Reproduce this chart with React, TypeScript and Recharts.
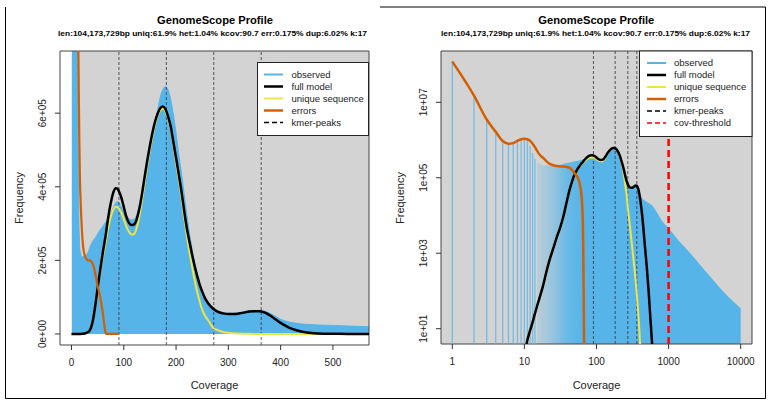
import React from 'react'
import {
  ComposedChart,
  Area,
  Line,
  XAxis,
  YAxis,
  ReferenceLine,
  ReferenceArea,
  CartesianGrid,
} from 'recharts'

// k-mer coverage (x) and frequencies
const coverage = [
  0, 1, 2, 3, 4, 5, 6, 7, 8, 9,
  10, 11, 12, 13, 14, 15, 16, 18, 20, 22,
  25, 28, 31, 35, 38, 42, 46, 50, 55, 60,
  63, 65, 66, 68, 70, 75, 80, 85, 88, 90,
  95, 100, 105, 110, 115, 120, 125, 130, 135, 140,
  145, 150, 155, 160, 165, 170, 175, 180, 185, 190,
  195, 200, 205, 210, 215, 220, 225, 230, 235, 240,
  245, 250, 255, 262, 270, 280, 290, 300, 310, 320,
  330, 340, 350, 360, 370, 380, 390, 400, 415, 430,
  450, 470, 500, 530, 560, 600, 640, 700, 800, 1000,
  1500, 2000, 3000, 5000, 7000, 10000,
]

const observed = [
  null, 1.25e8, 1.6e7, 3.6e6, 1.7e6, 9.6e5, 8.2e5, 8.5e5, 9.7e5, 1.07e6,
  1.09e6, 1.0e6, 7.0e5, 4.5e5, 3.2e5, 2.6e5, 2.3e5, 2.15e5, 2.1e5, 2.1e5,
  2.12e5, 2.15e5, 2.2e5, 2.35e5, 2.45e5, 2.55e5, 2.62e5, 2.72e5, 2.83e5, 2.93e5,
  2.99e5, 3.03e5, 3.05e5, 3.09e5, 3.14e5, 3.28e5, 3.43e5, 3.57e5, 3.6e5, 3.58e5,
  3.46e5, 3.32e5, 3.21e5, 3.13e5, 3.1e5, 3.12e5, 3.25e5, 3.5e5, 3.8e5, 4.2e5,
  4.58e5, 4.95e5, 5.32e5, 5.7e5, 6.1e5, 6.45e5, 6.65e5, 6.72e5, 6.62e5, 6.35e5,
  5.95e5, 5.45e5, 4.9e5, 4.4e5, 3.85e5, 3.3e5, 2.8e5, 2.35e5, 1.95e5, 1.6e5,
  1.35e5, 1.15e5, 1.0e5, 8.5e4, 7.2e4, 6.3e4, 5.8e4, 5.6e4, 5.6e4, 5.8e4,
  6.1e4, 6.3e4, 6.4e4, 6.4e4, 6.2e4, 5.6e4, 4.8e4, 4.0e4, 3.3e4, 2.9e4,
  2.6e4, 2.45e4, 2.3e4, 2.15e4, 2.0e4, 1.8e4, 1.5e4, 1.15e4, 7.5e3, 4.6e3,
  1.8e3, 1.0e3, 400, 130, 65, 35,
]

const fullModel = [
  0, 0, 0, 0, 0, 0, 0, 0, 0, 0,
  2, 5, 9, 15, 25, 40, 60, 130, 300, 600,
  1300, 2600, 4500, 10000, 20000, 45000, 82000, 125000, 175000, 222000,
  248000, 265000, 274000, 295000, 315000, 355000, 385000, 396000, 395000, 390000,
  372000, 345000, 318000, 302000, 296000, 298000, 313000, 342000, 382000, 428000,
  472000, 512000, 548000, 578000, 600000, 614000, 618000, 610000, 590000, 562000,
  520000, 478000, 435000, 390000, 340000, 292000, 255000, 220000, 188000, 160000,
  135000, 115000, 98000, 82000, 70000, 60000, 56000, 54000, 54000, 55500,
  58000, 61000, 62000, 61500, 58000, 50000, 40000, 30000, 18000, 10000,
  4000, 1500, 400, 90, 18, 2.5, 0.3, 0, 0, 0,
  0, 0, 0, 0, 0, 0,
]

const uniqueSeq = [
  0, 0, 0, 0, 0, 0, 0, 0, 0, 0,
  2, 5, 9, 15, 25, 40, 60, 130, 300, 600,
  1300, 2600, 4500, 10000, 19500, 44000, 80000, 120000, 168000, 210000,
  232000, 248000, 255000, 272000, 288000, 318000, 338000, 346000, 345000, 342000,
  330000, 312000, 292000, 278000, 270000, 272000, 290000, 322000, 365000, 412000,
  458000, 500000, 538000, 570000, 594000, 608000, 612000, 604000, 584000, 555000,
  512000, 465000, 422000, 375000, 322000, 273000, 228000, 188000, 150000, 117000,
  89000, 66000, 50000, 36000, 18000, 10000, 5500, 3000, 1700, 950,
  550, 320, 170, 95, 50, 25, 12, 5, 1.2, 0.2,
  0, 0, 0, 0, 0, 0, 0, 0, 0, 0,
  0, 0, 0, 0, 0, 0,
]

const errors = [
  null, 1.2e8, 1.5e7, 3.5e6, 1.65e6, 9.4e5, 8.0e5, 8.3e5, 9.5e5, 1.05e6,
  1.08e6, 1.05e6, 9.5e5, 8.0e5, 6.5e5, 5.2e5, 4.3e5, 3.4e5, 2.8e5, 2.4e5,
  2.15e5, 2.05e5, 2.0e5, 2.0e5, 1.97e5, 1.85e5, 1.6e5, 1.3e5, 1.0e5, 5.5e4,
  2.2e4, 4000, 300, 0.5, 0, 0, 0, 0, 0, 0,
  null, null, null, null, null, null, null, null, null, null,
  null, null, null, null, null, null, null, null, null, null,
  null, null, null, null, null, null, null, null, null, null,
  null, null, null, null, null, null, null, null, null, null,
  null, null, null, null, null, null, null, null, null, null,
  null, null, null, null, null, null, null, null, null, null,
  null, null, null, null, null, null,
]

const kmerPeaks = [90.7, 181.4, 272.1, 362.8]
const covThreshold = 1000

const linXTicks = [0, 100, 200, 300, 400, 500]
const linYTicks = [0, 2e5, 4e5, 6e5]
const logXTicks = [1, 10, 100, 1000, 10000]
const logYTicks = [10, 1e3, 1e5, 1e7]

const title = 'GenomeScope Profile'
const subtitle = 'len:104,173,729bp uniq:61.9%  het:1.04% kcov:90.7 err:0.175%  dup:6.02%  k:17'
const legendLeft = ['observed', 'full model', 'unique sequence', 'errors', 'kmer-peaks']
const legendRight = [...legendLeft, 'cov-threshold']

const LIN_X = [-22, 569]
const LIN_Y = [-30000, 769000]
const LOG_X = [0.697, 14350]
const LOG_Y = [3.93, 2.29e8]

const FONT = '"Liberation Sans", Arial, Helvetica, sans-serif'
const BLUE = '#56B4E9'
const YELLOW = '#F0E442'
const ORANGE = '#D55E00'
const BG = '#D3D3D3'

const rows = coverage.map((cov, i) => ({
  cov,
  observed: observed[i],
  full: fullModel[i],
  uniq: uniqueSeq[i],
  err: errors[i],
}))

const pos = (v: number | null) => (v != null && v > 0 ? v : null)

const logRows = rows
  .filter((r) => r.cov > 0)
  .map((r) => ({
    cov: r.cov,
    obsFill: r.cov >= 15 ? r.observed : null,
    full: pos(r.full),
    uniq: pos(r.uniq),
    err: pos(r.err),
  }))

const lowCov = rows.filter((r) => r.cov >= 1 && r.cov <= 14)

const sci = (v: number) => v.toExponential(0).replace(/e([+-])(\d)$/, 'e$10$2')
const plain = (v: number) => String(v)

function xTick(fmt: (v: number) => string) {
  return (p: any) => (
    <text x={p.x} y={p.y + 14} textAnchor="middle" fontSize={10} fill="#222" fontFamily={FONT}>
      {fmt(p.payload.value)}
    </text>
  )
}

function yTick(fmt: (v: number) => string) {
  return (p: any) => (
    <text
      x={p.x - 7}
      y={p.y}
      transform={`rotate(-90 ${p.x - 7} ${p.y})`}
      textAnchor="middle"
      fontSize={10}
      fill="#222"
      fontFamily={FONT}
    >
      {fmt(p.payload.value)}
    </text>
  )
}

const tickLine = { stroke: '#333', strokeWidth: 1 }

function LinearPanel() {
  return (
    <ComposedChart width={388} height={400} data={rows} margin={{ top: 51, right: 19, bottom: 25, left: 0 }}>
      <XAxis
        type="number"
        dataKey="cov"
        domain={LIN_X}
        allowDataOverflow
        ticks={linXTicks}
        interval={0}
        height={30}
        tickSize={5}
        tickLine={tickLine}
        axisLine={false}
        tick={xTick(plain)}
      />
      <YAxis
        type="number"
        domain={LIN_Y}
        allowDataOverflow
        ticks={linYTicks}
        interval={0}
        width={60}
        tickSize={5}
        tickLine={tickLine}
        axisLine={false}
        tick={yTick(sci)}
      />
      <ReferenceArea x1={0} x2={LIN_X[1]} y1={0} y2={LIN_Y[1]} fill={BG} fillOpacity={1} stroke="none" />
      <Area
        dataKey="observed"
        type="monotone"
        fill={BLUE}
        fillOpacity={1}
        stroke={BLUE}
        strokeWidth={1}
        dot={false}
        activeDot={false}
        isAnimationActive={false}
      />
      {kmerPeaks.map((p) => (
        <ReferenceLine key={p} x={p} stroke="#333" strokeDasharray="3 2" strokeWidth={0.8} />
      ))}
      <Line dataKey="uniq" type="monotone" stroke={YELLOW} strokeWidth={2} dot={false} activeDot={false} isAnimationActive={false} />
      <Line dataKey="full" type="monotone" stroke="#000" strokeWidth={2.5} dot={false} activeDot={false} isAnimationActive={false} />
      <Line dataKey="err" type="monotone" stroke={ORANGE} strokeWidth={2.2} dot={false} activeDot={false} isAnimationActive={false} />
      <ReferenceArea x1={LIN_X[0]} x2={LIN_X[1]} y1={LIN_Y[0]} y2={LIN_Y[1]} fill="none" stroke="#444" />
    </ComposedChart>
  )
}

function LogPanel() {
  return (
    <ComposedChart width={388} height={400} data={logRows} margin={{ top: 51, right: 24, bottom: 26, left: 0 }}>
      <defs>
        <linearGradient id="obsFade" x1="0" y1="0" x2="1" y2="0">
          <stop offset="0" stopColor={BLUE} stopOpacity={0.2} />
          <stop offset="0.08" stopColor={BLUE} stopOpacity={0.5} />
          <stop offset="0.15" stopColor={BLUE} stopOpacity={0.85} />
          <stop offset="0.22" stopColor={BLUE} stopOpacity={1} />
        </linearGradient>
      </defs>
      <CartesianGrid fill={BG} horizontal={false} vertical={false} stroke="none" />
      <XAxis
        type="number"
        scale="log"
        dataKey="cov"
        domain={LOG_X}
        allowDataOverflow
        ticks={logXTicks}
        interval={0}
        height={30}
        tickSize={5}
        tickLine={tickLine}
        axisLine={false}
        tick={xTick(plain)}
      />
      <YAxis
        type="number"
        scale="log"
        domain={LOG_Y}
        allowDataOverflow
        ticks={logYTicks}
        interval={0}
        width={53}
        tickSize={5}
        tickLine={tickLine}
        axisLine={false}
        tick={yTick(sci)}
      />
      {lowCov.map((r) => (
        <ReferenceLine
          key={r.cov}
          segment={[
            { x: r.cov, y: LOG_Y[0] },
            { x: r.cov, y: r.observed as number },
          ]}
          stroke={BLUE}
          strokeOpacity={0.75}
          strokeWidth={1.3}
        />
      ))}
      <Area
        dataKey="obsFill"
        type="monotone"
        baseValue={LOG_Y[0]}
        fill="url(#obsFade)"
        fillOpacity={1}
        stroke="none"
        dot={false}
        activeDot={false}
        isAnimationActive={false}
      />
      {kmerPeaks.map((p) => (
        <ReferenceLine key={p} x={p} stroke="#333" strokeDasharray="3 2" strokeWidth={0.8} />
      ))}
      <ReferenceLine x={covThreshold} stroke="#FF0000" strokeDasharray="7 4" strokeWidth={2.5} />
      <Line dataKey="uniq" type="monotone" stroke={YELLOW} strokeWidth={2} dot={false} activeDot={false} isAnimationActive={false} />
      <Line dataKey="full" type="monotone" stroke="#000" strokeWidth={2.5} dot={false} activeDot={false} isAnimationActive={false} />
      <Line dataKey="err" type="monotone" stroke={ORANGE} strokeWidth={2.5} dot={false} activeDot={false} isAnimationActive={false} />
      <ReferenceArea x1={LOG_X[0]} x2={LOG_X[1]} y1={LOG_Y[0]} y2={LOG_Y[1]} fill="none" stroke="#444" />
    </ComposedChart>
  )
}

const legendStyle = [
  { stroke: BLUE, width: 2, dash: undefined },
  { stroke: '#000', width: 2.5, dash: undefined },
  { stroke: YELLOW, width: 2, dash: undefined },
  { stroke: ORANGE, width: 2.5, dash: undefined },
  { stroke: '#000', width: 1.5, dash: '5 3' },
  { stroke: '#FF0000', width: 1.5, dash: '5 3' },
]

function LegendBox({ x, y, w, h, labels, lineX, textX }: any) {
  return (
    <g>
      <rect x={x} y={y} width={w} height={h} fill="#fff" stroke="#222" strokeWidth={1} />
      {labels.map((label: string, i: number) => {
        const ry = y + 12 + i * 12
        const s = legendStyle[i]
        return (
          <g key={label}>
            <line x1={lineX} x2={lineX + 19} y1={ry} y2={ry} stroke={s.stroke} strokeWidth={s.width} strokeDasharray={s.dash} />
            <text x={textX} y={ry + 3.3} fontSize={9.5} fill="#222" fontFamily={FONT}>
              {label}
            </text>
          </g>
        )
      })}
    </g>
  )
}

function Overlay() {
  return (
    <svg width={776} height={400} style={{ position: 'absolute', left: 0, top: 0, pointerEvents: 'none' }}>
      <polyline points="380,7 765.5,7 765.5,398.5 5.5,398.5 5.5,7" fill="none" stroke="#000" strokeWidth={1} />
      <text x={215} y={23.5} textAnchor="middle" fontSize={11.2} fontWeight="bold" fontFamily={FONT} textLength={116} lengthAdjust="spacingAndGlyphs">
        {title}
      </text>
      <text x={212.5} y={36.2} textAnchor="middle" fontSize={7.2} fontWeight="bold" fontFamily={FONT} textLength={309} lengthAdjust="spacingAndGlyphs">
        {subtitle}
      </text>
      <text x={596.3} y={23.5} textAnchor="middle" fontSize={11.2} fontWeight="bold" fontFamily={FONT} textLength={116} lengthAdjust="spacingAndGlyphs">
        {title}
      </text>
      <text x={595.5} y={36.2} textAnchor="middle" fontSize={7.2} fontWeight="bold" fontFamily={FONT} textLength={309} lengthAdjust="spacingAndGlyphs">
        {subtitle}
      </text>
      <text x={214.5} y={389} textAnchor="middle" fontSize={11} fill="#222" fontFamily={FONT}>Coverage</text>
      <text x={596.5} y={389} textAnchor="middle" fontSize={11} fill="#222" fontFamily={FONT}>Coverage</text>
      <text x={22.5} y={198} transform="rotate(-90 22.5 198)" textAnchor="middle" fontSize={11} fill="#222" fontFamily={FONT}>Frequency</text>
      <text x={404} y={198} transform="rotate(-90 404 198)" textAnchor="middle" fontSize={11} fill="#222" fontFamily={FONT}>Frequency</text>
      <LegendBox x={257.5} y={62.5} w={111} h={73} labels={legendLeft} lineX={264} textX={291.5} />
      <LegendBox x={639.5} y={51} w={112.5} h={85.5} labels={legendRight} lineX={647} textX={674} />
    </svg>
  )
}

export default function App() {
  return (
    <div style={{ position: 'absolute', left: 0, top: 0, width: 776, height: 400, background: '#fff' }}>
      <div style={{ position: 'absolute', left: 0, top: 0 }}>
        <LinearPanel />
      </div>
      <div style={{ position: 'absolute', left: 388, top: 0 }}>
        <LogPanel />
      </div>
      <Overlay />
    </div>
  )
}
